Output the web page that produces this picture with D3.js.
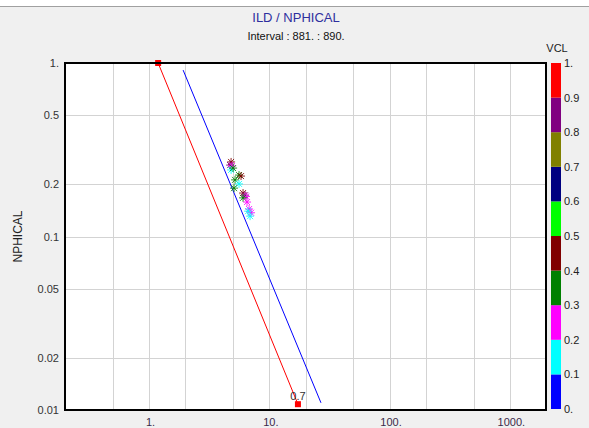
<!DOCTYPE html>
<html>
<head>
<meta charset="utf-8">
<script src="https://cdn.jsdelivr.net/npm/d3@7"></script>
<style>
  html, body { margin: 0; padding: 0; background: #f0f0f0; }
  svg { display: block; font-family: "Liberation Sans", Arial, sans-serif; }
</style>
</head>
<body>
<svg id="chart" width="589" height="428"></svg>
<script>
// Axis ranges and ticks
const xDomain = [0.2, 2000];
const yDomain = [0.01, 1];
const xTickValues = [1, 10, 100, 1000];
const xTickLabels = ["1.", "10.", "100.", "1000."];
const xGridValues = [0.5, 1, 2, 5, 10, 20, 50, 100, 200, 500, 1000];
const yTickValues = [1, 0.5, 0.2, 0.1, 0.05, 0.02, 0.01];
const yTickLabels = ["1.", "0.5", "0.2", "0.1", "0.05", "0.02", "0.01"];
const yGridValues = [0.5, 0.2, 0.1, 0.05, 0.02];

// Reference lines (ILD, NPHICAL endpoints)
const redLine = [[1.19, 1.0], [17.3, 0.0108]];
const blueLine = [[1.92, 0.91], [26.9, 0.011]];
const redLineLabel = "0.7";

// Samples: ILD, NPHICAL, VCL
const ild    = [4.81, 4.72, 4.90, 4.81, 5.00, 5.60, 5.82, 5.19, 5.60, 5.09, 6.05, 6.29, 6.40, 6.05, 6.53, 6.79, 7.05, 6.92, 6.66];
const nphi   = [0.269, 0.258, 0.255, 0.242, 0.248, 0.226, 0.223, 0.212, 0.201, 0.190, 0.178, 0.173, 0.170, 0.167, 0.158, 0.144, 0.137, 0.131, 0.140];
const vcl    = [0.45, 0.85, 0.25, 0.15, 0.35, 0.35, 0.42, 0.32, 0.15, 0.33, 0.45, 0.85, 0.25, 0.35, 0.22, 0.28, 0.25, 0.15, 0.15];

// VCL colour classes
const vclBreaks = [0, 0.1, 0.2, 0.3, 0.4, 0.5, 0.6, 0.7, 0.8, 0.9, 1.0];
const vclColors = ["#0000ff", "#00ffff", "#ff00ff", "#008000", "#800000", "#00ff00", "#000080", "#808000", "#800080", "#ff0000"];
const vclTickLabels = ["0.", "0.1", "0.2", "0.3", "0.4", "0.5", "0.6", "0.7", "0.8", "0.9", "1."];

const svg = d3.select("#chart");
const W = 589, H = 428;
const plot = { left: 65, right: 546, top: 63, bottom: 410 };

// Window chrome
svg.append("rect").attr("x", 0).attr("y", 0).attr("width", W).attr("height", 6).attr("fill", "#ffffff");
svg.append("line").attr("x1", 0).attr("x2", W).attr("y1", 6.5).attr("y2", 6.5).attr("stroke", "#a0a0a0");

// Titles
svg.append("text").attr("x", 296).attr("y", 22).attr("text-anchor", "middle")
  .attr("font-size", 13).attr("fill", "#2e2e9e").text("ILD / NPHICAL");
svg.append("text").attr("x", 296).attr("y", 40).attr("text-anchor", "middle")
  .attr("font-size", 11).attr("fill", "#111").text("Interval : 881. : 890.");

const x = d3.scaleLog().domain(xDomain).range([plot.left, plot.right]);
const y = d3.scaleLog().domain(yDomain).range([plot.bottom, plot.top]);

// Plot background
svg.append("rect").attr("x", plot.left).attr("y", plot.top)
  .attr("width", plot.right - plot.left).attr("height", plot.bottom - plot.top)
  .attr("fill", "#ffffff");

// Grid
const grid = svg.append("g").attr("stroke", "#d3d3d3").attr("stroke-width", 1);
grid.selectAll("line.vx").data(xGridValues).join("line")
  .attr("x1", d => Math.round(x(d)) + 0.5).attr("x2", d => Math.round(x(d)) + 0.5)
  .attr("y1", plot.top).attr("y2", plot.bottom);
grid.selectAll("line.hy").data(yGridValues).join("line")
  .attr("y1", d => Math.round(y(d)) + 0.5).attr("y2", d => Math.round(y(d)) + 0.5)
  .attr("x1", plot.left).attr("x2", plot.right);

// Axes (labels only; frame drawn separately)
const xAxis = d3.axisBottom(x).tickValues(xTickValues)
  .tickFormat((d, i) => xTickLabels[i]).tickSize(0).tickPadding(8);
const gx = svg.append("g").attr("transform", `translate(1,${plot.bottom})`).call(xAxis);
gx.select(".domain").remove();
gx.selectAll("text").attr("font-size", 11).attr("fill", "#3a2a4a").attr("font-family", "Liberation Sans, Arial, sans-serif");

const yAxis = d3.axisLeft(y).tickValues(yTickValues)
  .tickFormat((d, i) => yTickLabels[i]).tickSize(0).tickPadding(6);
const gy = svg.append("g").attr("transform", `translate(${plot.left},0)`).call(yAxis);
gy.select(".domain").remove();
gy.selectAll("text").attr("font-size", 11).attr("fill", "#333").attr("font-family", "Liberation Sans, Arial, sans-serif");

svg.append("text").attr("transform", `translate(22,${(plot.top + plot.bottom) / 2}) rotate(-90)`)
  .attr("text-anchor", "middle").attr("font-size", 12).attr("fill", "#222").text("NPHICAL");

const content = svg.append("g");

const line = d3.line().x(d => x(d[0])).y(d => y(d[1]));
content.append("path").datum(redLine).attr("d", line)
  .attr("fill", "none").attr("stroke", "#ff0000").attr("stroke-width", 1);
content.append("path").datum(blueLine).attr("d", line)
  .attr("fill", "none").attr("stroke", "#0000ff").attr("stroke-width", 1);

// Samples as asterisk markers coloured by VCL class
const vclColor = d3.scaleThreshold().domain(vclBreaks.slice(1, -1)).range(vclColors);
const samples = ild.map((v, i) => ({ ild: v, nphi: nphi[i], vcl: vcl[i] }));
const r = 4;
const star = `M${-r},0L${r},0M0,${-r}L0,${r}M${-r*0.75},${-r*0.75}L${r*0.75},${r*0.75}M${-r*0.75},${r*0.75}L${r*0.75},${-r*0.75}`;
content.selectAll("path.pt").data(samples).join("path")
  .attr("class", "pt")
  .attr("transform", d => `translate(${x(d.ild)},${y(d.nphi)})`)
  .attr("d", star).attr("fill", "none")
  .attr("stroke", d => vclColor(d.vcl)).attr("stroke-width", 1).attr("stroke-opacity", 0.85);

// Red line end markers and label
content.selectAll("rect.endpt").data(redLine).join("rect")
  .attr("class", "endpt")
  .attr("x", d => x(d[0]) - 3).attr("y", d => y(d[1]) - 3)
  .attr("width", 6).attr("height", 6).attr("fill", "#ff0000");
svg.append("text").attr("x", x(redLine[1][0])).attr("y", y(redLine[1][1]) - 4)
  .attr("text-anchor", "middle").attr("font-size", 11).attr("fill", "#333").text(redLineLabel);

// Frame
svg.append("rect").attr("x", plot.left).attr("y", plot.top)
  .attr("width", plot.right - plot.left).attr("height", plot.bottom - plot.top)
  .attr("fill", "none").attr("stroke", "#000").attr("stroke-width", 2);

// VCL colour bar
const cb = { left: 551, width: 10 };
const cy = d3.scaleLinear().domain([0, 1]).range([plot.bottom - 1, plot.top]);
const bands = vclColors.map((c, i) => ({ lo: vclBreaks[i], hi: vclBreaks[i + 1], c }));
svg.selectAll("rect.band").data(bands).join("rect")
  .attr("class", "band")
  .attr("x", cb.left).attr("width", cb.width)
  .attr("y", d => cy(d.hi)).attr("height", d => cy(d.lo) - cy(d.hi))
  .attr("fill", d => d.c);
svg.selectAll("text.cbl").data(vclBreaks).join("text")
  .attr("class", "cbl")
  .attr("x", cb.left + cb.width + 3).attr("y", d => cy(d) + 4)
  .attr("font-size", 11).attr("fill", "#222").text((d, i) => vclTickLabels[i]);
svg.append("text").attr("x", 557).attr("y", 52).attr("text-anchor", "middle")
  .attr("font-size", 11).attr("fill", "#222").text("VCL");
</script>
</body>
</html>
